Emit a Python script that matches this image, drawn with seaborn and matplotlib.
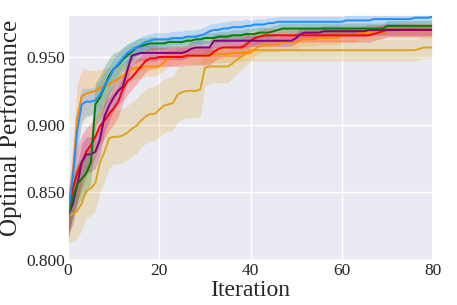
import numpy as np
import pandas as pd
import matplotlib
matplotlib.use("Agg")
import matplotlib.pyplot as plt
import seaborn as sns

iterations = list(range(81))

blue_mean = [.833, .860, .895, .915, .917, .917, .918, .922, .929, .934,
             .941, .945, .949, .953, .955, .957, .959, .961, .962, .963,
             .963, .963, .963, .964, .964, .964, .965, .965, .965, .966,
             .967, .969, .970, .970, .971, .971, .972, .972, .972, .973,
             .973, .974, .974, .974, .975, .975, .976, .976, .976, .976,
             .976, .976, .976, .976, .976, .976, .976, .976, .976, .976,
             .976, .977, .977, .977, .977, .977, .977, .978, .978, .978,
             .978, .978, .978, .978, .978, .978, .979, .979, .979, .979, .980]
blue_std = [.012, .015, .015, .012, .010, .010, .010, .010, .010, .009,
            .008, .008, .007, .007, .006, .006, .006, .005, .005, .005] + [.005] * 20 + [.004] * 41

green_mean = [.833, .845, .856, .860, .864, .872, .915, .920, .928, .936,
              .941, .944, .948, .951, .954, .957, .958, .959, .960, .960,
              .960, .960, .961, .961, .961, .961, .962, .962, .963, .963,
              .964, .964, .964, .965, .965, .965, .966, .966, .966, .967,
              .967, .967, .968, .968, .968, .969, .970, .971, .971, .971] + [.971] * 20 + [.973] * 11
green_std = [.012, .015, .015, .015, .015, .015, .016, .016, .015, .013,
             .012, .010, .009, .008, .007, .006, .006, .005, .005, .005] + [.004] * 61

purple_mean = [.833, .841, .855, .872, .878, .878, .880, .889, .906, .914,
               .920, .925, .928, .940, .951, .952, .953, .953, .953, .953,
               .953, .953, .953, .953, .953, .953, .954, .956, .957, .957,
               .957, .957, .962, .962, .962, .962, .962, .962, .962, .962] + [.962] * 10 + \
              [.964, .967, .968, .968, .968, .968, .969, .969, .969, .969] + [.969] * 6 + [.970] * 15
purple_std = [.015, .015, .015, .014, .013, .013, .012, .012, .012, .011,
              .010, .010, .009, .008, .007, .006, .006, .006, .006, .006] + [.005] * 20 + [.004] * 41

red_mean = [.833, .852, .864, .872, .880, .885, .891, .899, .903, .908,
            .912, .917, .926, .932, .935, .939, .943, .947, .949, .949,
            .950, .950, .950, .950, .950, .950, .951, .951, .951, .951,
            .951, .951, .954, .956, .957, .957, .957, .957, .957, .959,
            .962, .964, .965, .966, .966, .966, .966, .966, .966, .966] + [.966] * 17 + \
           [.967, .968, .969] + [.970] * 11
red_std = [.018, .020, .020, .020, .018, .016, .015, .014, .013, .012,
           .012, .011, .010, .010, .009, .009, .008, .008, .008, .008] + [.007] * 20 + [.005] * 41

orange_mean = [.830, .860, .905, .921, .923, .924, .925, .927, .929, .930,
               .932, .934, .936, .939, .941, .942, .942, .943, .943, .943,
               .943, .946, .949, .950, .950, .951, .951, .951, .951, .951,
               .951, .952, .952, .952, .952, .952, .953, .953, .953, .953,
               .953, .956, .958, .959, .959, .959, .959, .961, .961, .961,
               .961, .963, .963, .963, .963, .964, .964, .964, .964, .964,
               .966, .966, .966, .966, .968, .968, .968, .968, .968, .968] + [.969] * 11
orange_std = [.020, .025, .025, .020, .018, .016, .015, .014, .013, .012,
              .011, .010, .010, .009, .008, .008, .008, .007, .007, .007] + [.006] * 20 + [.005] * 41

gold_mean = [.833, .834, .836, .842, .851, .853, .857, .872, .880, .890,
             .891, .891, .892, .894, .897, .899, .903, .906, .908, .908,
             .911, .914, .915, .916, .922, .924, .925, .925, .925, .926,
             .942, .943, .943, .943, .943, .943, .945, .948, .950, .953] + [.955] * 37 + \
            [.956, .957, .957, .957]
gold_std = [.020, .020, .020, .020, .020, .020, .021, .022, .022, .022] + [.020] * 20 + \
           [.013, .013, .012, .012, .012, .012, .011, .010, .010, .009] + [.008] * 41

series = [
    ("goldenrod", gold_mean, gold_std, "#DAA520"),
    ("orange", orange_mean, orange_std, "#FF8C00"),
    ("red", red_mean, red_std, "#FF0000"),
    ("purple", purple_mean, purple_std, "#800080"),
    ("green", green_mean, green_std, "#008000"),
    ("blue", blue_mean, blue_std, "#1E90FF"),
]

sns.set_theme(style="darkgrid")
plt.rcParams["font.family"] = ["Liberation Serif", "DejaVu Serif"]

fig = plt.figure(figsize=(4.57, 3.05), dpi=100)
ax = fig.add_axes([0.1488, 0.1475, 0.7987, 0.8033])

rows = []
for name, m, s, c in series:
    for it, v in zip(iterations, m):
        rows.append({"Iteration": it, "value": v, "method": name})
df = pd.DataFrame(rows)

palette = {name: c for name, m, s, c in series}
for name, m, s, c in series:
    m_arr = np.array(m)
    s_arr = np.array(s)
    ax.fill_between(iterations, m_arr - s_arr, m_arr + s_arr, color=c, alpha=0.22, linewidth=0)

sns.lineplot(data=df, x="Iteration", y="value", hue="method", palette=palette,
             hue_order=[s[0] for s in series], legend=False, ax=ax, linewidth=1.4)

ax.set_xlim(0, 80)
ax.set_ylim(0.8, 0.981)
ax.set_xticks([0, 20, 40, 60, 80])
ax.set_yticks([0.80, 0.85, 0.90, 0.95])
ax.set_yticklabels(["0.800", "0.850", "0.900", "0.950"])
ax.tick_params(axis="both", length=0, labelsize=12.5)
ax.tick_params(axis="x", pad=2)
ax.tick_params(axis="y", pad=2)
ax.set_xlabel("Iteration", fontsize=17, labelpad=1)
ax.set_ylabel("Optimal Performance", fontsize=18)
ax.yaxis.set_label_coords(-0.127, 0.54)

fig.savefig("out.png", dpi=100)
